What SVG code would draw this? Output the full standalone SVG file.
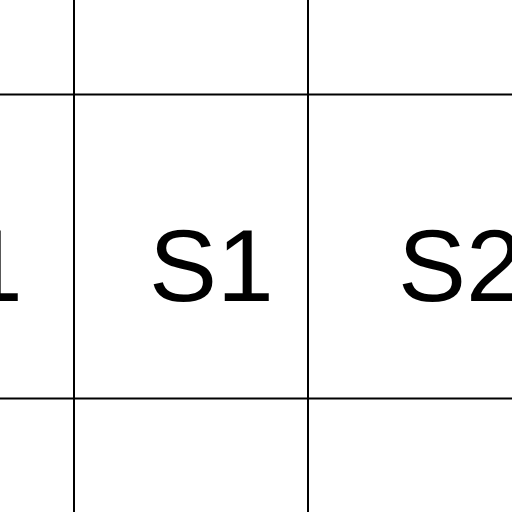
<svg xmlns="http://www.w3.org/2000/svg" width="512" height="512" viewBox="0 0 512 512">
<style>
.grid line{stroke:#000;stroke-width:2}
.t{font-family:"Liberation Sans",Arial,sans-serif;font-size:102px;fill:#000}
</style>
<rect width="512" height="512" fill="#fff"/>
<g id="connectors" class="grid">
<line x1="74" y1="0" x2="74" y2="512"/>
<line x1="308" y1="0" x2="308" y2="512"/>
<line x1="0" y1="94.5" x2="512" y2="94.5"/>
<line x1="0" y1="398.5" x2="512" y2="398.5"/>
</g>
<g id="cell-left"><text class="t" x="-34" y="301">1</text></g>
<g id="cell-s1"><text class="t" x="149" y="301">S1</text></g>
<g id="cell-s2"><text class="t" x="398" y="301">S2</text></g>
</svg>
